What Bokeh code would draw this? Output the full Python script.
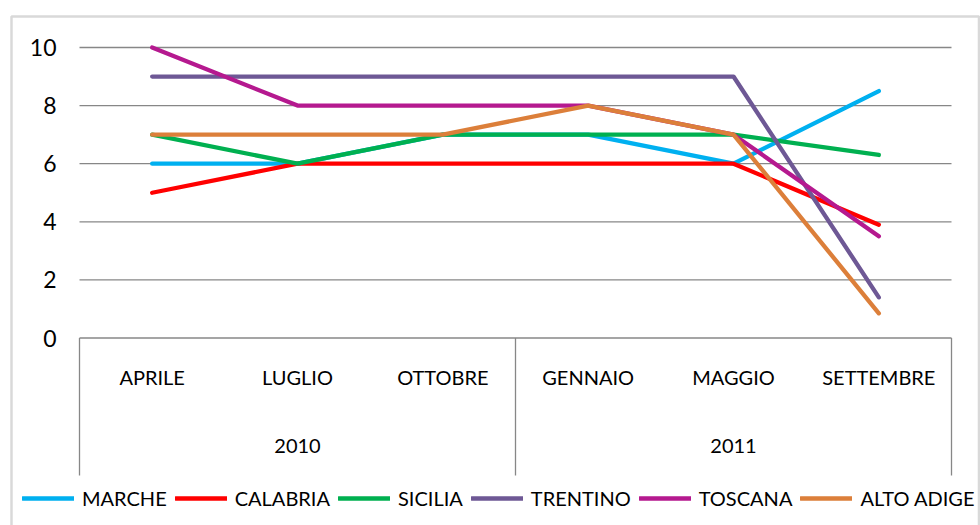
from bokeh.plotting import figure
from bokeh.models import (Range1d, LinearAxis, FixedTicker, Legend, LegendItem,
                          BoxAnnotation)
from bokeh.embed import file_html
from bokeh.resources import INLINE

# ---------------- data ----------------
months = ["APRILE", "LUGLIO", "OTTOBRE", "GENNAIO", "MAGGIO", "SETTEMBRE"]
years = ["2010", "2011"]
months_per_year = [3, 3]
yticks = [0, 2, 4, 6, 8, 10]

series_names = ["MARCHE", "CALABRIA", "SICILIA", "TRENTINO", "TOSCANA", "ALTO ADIGE"]
marche = [6, 6, 7, 7, 6, 8.5]
calabria = [5, 6, 6, 6, 6, 3.9]
sicilia = [7, 6, 7, 7, 7, 6.3]
trentino = [9, 9, 9, 9, 9, 1.4]
toscana = [10, 8, 8, 8, 7, 3.5]
alto_adige = [7, 7, 7, 8, 7, 0.85]
colors = ["#00B0F0", "#FF0000", "#00B050", "#6E5895", "#B5198F", "#DC7F3A"]

# ---------------- layout (pixels, canvas coords) ----------------
W, H = 980, 525
plot_left_px, plot_right_px = 79, 951       # x of category 0.5 / 6.5 edges
y0_px, y10_px = 337.5, 47                   # canvas y of value 0 / 10
box_bottom_px = 475
border_left_px, border_right_px, border_top_px = 11, 978.5, 16

xs = list(range(1, len(months) + 1))
x_lo, x_hi = 0.5, len(months) + 0.5
ppx = (plot_right_px - plot_left_px) / (x_hi - x_lo)
ppy = (y0_px - y10_px) / 10.0

def xval(px):
    return x_lo + (px - plot_left_px) / ppx

def yval(py):
    return (y0_px - py) / ppy

p = figure(width=W, height=H, output_backend="svg", toolbar_location=None,
           x_range=Range1d(xval(0), xval(W)), y_range=Range1d(yval(H), yval(0)),
           min_border=0, min_border_left=0, min_border_right=0,
           min_border_top=0, min_border_bottom=0)
p.xaxis.visible = False
p.yaxis.visible = False
p.grid.visible = False
p.outline_line_color = None
p.background_fill_color = "white"
p.border_fill_color = "white"

FONT = "Lato"

# outer chart border
p.add_layout(BoxAnnotation(left=xval(border_left_px), right=xval(border_right_px),
                           top=yval(border_top_px), bottom=yval(H + 40),
                           fill_alpha=0, line_color="#808080", line_width=2.5))

# horizontal grid lines
p.segment(x0=[x_lo] * len(yticks), x1=[x_hi] * len(yticks), y0=yticks, y1=yticks,
          line_color="#878787", line_width=1.3)

# category box vertical lines
bounds = [x_lo]
acc = x_lo
for n in months_per_year:
    acc += n
    bounds.append(acc)
yb = yval(box_bottom_px)
p.segment(x0=bounds, x1=bounds, y0=[0] * len(bounds), y1=[yb] * len(bounds),
          line_color="#878787", line_width=1.3)

# series
all_series = [marche, calabria, sicilia, trentino, toscana, alto_adige]
items = []
for name, vals, c in zip(series_names, all_series, colors):
    r = p.line(xs, vals, line_color=c, line_width=4.3, line_cap="round", line_join="round")
    items.append(LegendItem(label=name, renderers=[r]))

# y axis
yax = LinearAxis(fixed_location=x_lo, ticker=FixedTicker(ticks=yticks))
yax.axis_line_color = None
yax.major_tick_line_color = None
yax.minor_tick_line_color = None
yax.major_tick_in = 0
yax.major_tick_out = 0
yax.major_label_standoff = 23
yax.major_label_text_font = FONT
yax.major_label_text_font_size = "23px"
yax.major_label_text_color = "black"
p.add_layout(yax, "left")

# month axis
mx = LinearAxis(fixed_location=0, ticker=FixedTicker(ticks=xs),
                major_label_overrides={x: m for x, m in zip(xs, months)})
# year axis
centers = []
start = 1
for n in months_per_year:
    centers.append(start + (n - 1) / 2)
    start += n
yx = LinearAxis(fixed_location=0, ticker=FixedTicker(ticks=centers),
                major_label_overrides={c: y for c, y in zip(centers, years)})
for ax, so in ((mx, 27), (yx, 101)):
    ax.axis_line_color = None
    ax.major_tick_line_color = None
    ax.minor_tick_line_color = None
    ax.major_tick_in = 0
    ax.major_tick_out = 0
    ax.major_label_standoff = so
    ax.major_label_text_font = FONT
    ax.major_label_text_font_size = "20px"
    ax.major_label_text_color = "black"
    p.add_layout(ax, "below")

legend = Legend(items=items, orientation="horizontal", location=(22, 15),
                glyph_width=52, glyph_height=20, label_height=20, label_standoff=8,
                spacing=8, padding=0, margin=0, border_line_alpha=0,
                background_fill_alpha=0, label_text_font=FONT,
                label_text_font_size="20px", label_text_color="black")
p.add_layout(legend)

open("out.html", "w").write(file_html(p, INLINE))
